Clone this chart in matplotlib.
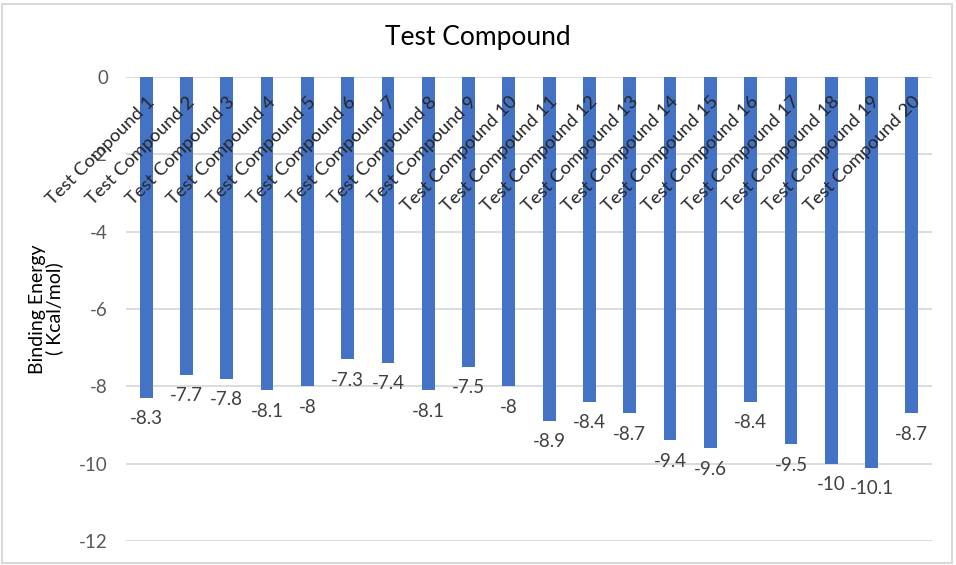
import matplotlib
matplotlib.use("Agg")
import matplotlib.pyplot as plt
from matplotlib.patches import Rectangle

categories = [f"Test Compound {i}" for i in range(1, 21)]
values = [-8.3, -7.7, -7.8, -8.1, -8, -7.3, -7.4, -8.1, -7.5, -8,
          -8.9, -8.4, -8.7, -9.4, -9.6, -8.4, -9.5, -10, -10.1, -8.7]
yticks = [0, -2, -4, -6, -8, -10, -12]
ytick_labels = ["0", "-2", "-4", "-6", "-8", "-10", "-12"]
title = "Test Compound"
ylabel = "Binding Energy\n( Kcal/mol)"

plt.rcParams['font.family'] = ['Lato', 'DejaVu Sans']

W, H = 956, 565
fig = plt.figure(figsize=(W / 100, H / 100), dpi=100)
ax = fig.add_axes([126 / W, 1 - 541 / H, (932 - 126) / W, (541 - 77) / H])

x = list(range(len(categories)))
ax.bar(x, values, width=0.32, color="#4472C4", zorder=3)
ax.set_xlim(-0.5, len(categories) - 0.5)
ax.set_ylim(-12, 0)
ax.set_yticks(yticks)
ax.set_yticklabels(ytick_labels)
ax.set_xticks([])
ax.tick_params(axis='y', length=0, pad=13, labelsize=13.5, labelcolor="#595959")
ax.grid(axis='y', color="#d9d9d9", linewidth=1.3, zorder=0)
for s in ax.spines.values():
    s.set_visible(False)

for xi, v, c in zip(x, values, categories):
    ax.annotate(f"{v:g}", xy=(xi, v), xytext=(0, -15), textcoords='offset points',
                ha='center', va='center', fontsize=13.5, color="#404040", zorder=4)
    ax.annotate(c, xy=(xi, 0), xytext=(4, -16), textcoords='offset points',
                ha='right', va='center', rotation=45, rotation_mode='anchor',
                fontsize=13.3, color="#262626", zorder=5)

fig.text(0.5, 1 - 37 / H, title, ha='center', va='center', fontsize=19, color="#000000")
fig.text(46 / W, 1 - 309 / H, ylabel, ha='center', va='center', rotation=90,
         fontsize=14, color="#000000", linespacing=1.0)

fig.patches.append(Rectangle((1.5 / W, 2.5 / H), (952 - 1.5) / W, (563 - 4) / H,
                             transform=fig.transFigure, fill=False,
                             edgecolor="#d9d9d9", linewidth=1.5))

fig.savefig("out.png", dpi=100)
